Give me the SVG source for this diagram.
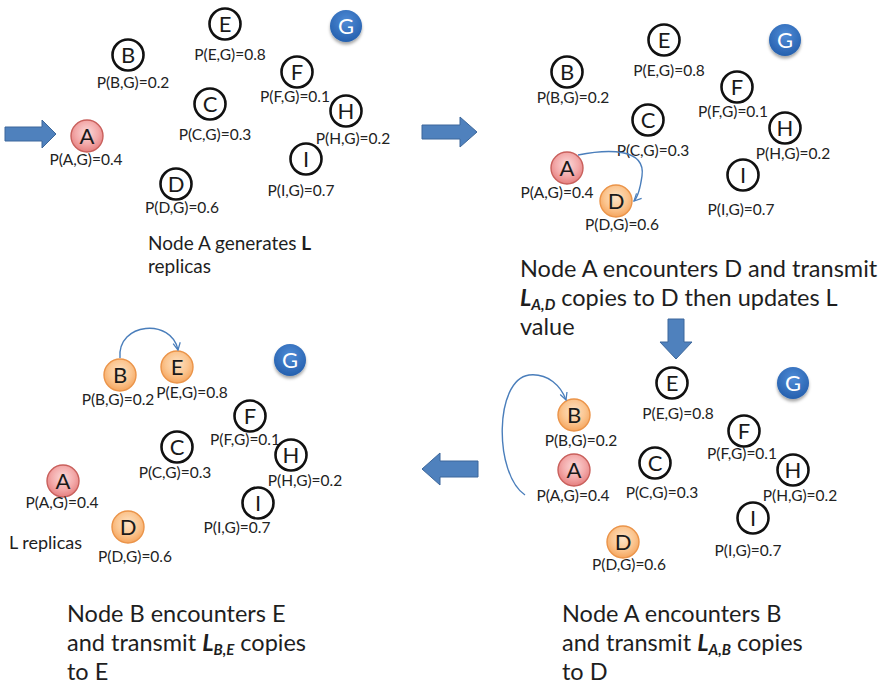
<svg xmlns="http://www.w3.org/2000/svg" width="884" height="686" viewBox="0 0 884 686">
<defs>
  <radialGradient id="gRed" cx="50%" cy="40%" r="60%">
    <stop offset="0" stop-color="#fbdada"/>
    <stop offset="0.6" stop-color="#f3a9a9"/>
    <stop offset="1" stop-color="#e57f7f"/>
  </radialGradient>
  <radialGradient id="gOrange" cx="50%" cy="40%" r="60%">
    <stop offset="0" stop-color="#fde3c6"/>
    <stop offset="0.6" stop-color="#fbc58f"/>
    <stop offset="1" stop-color="#f5a55e"/>
  </radialGradient>
  <radialGradient id="gBlue" cx="50%" cy="35%" r="65%">
    <stop offset="0" stop-color="#4f8bd6"/>
    <stop offset="1" stop-color="#2560ae"/>
  </radialGradient>
  <filter id="shadow" x="-50%" y="-50%" width="200%" height="200%">
    <feDropShadow dx="0" dy="2.5" stdDeviation="1.8" flood-color="#000" flood-opacity="0.35"/>
  </filter>
  <marker id="openArrow" viewBox="0 0 10 10" refX="9" refY="5" markerWidth="9" markerHeight="9" orient="auto" markerUnits="userSpaceOnUse">
    <path d="M1,1 L9,5 L1,9" fill="none" stroke="#4a7ebb" stroke-width="1.4"/>
  </marker>
</defs>
<style>
  .plain{fill:#fff;stroke:#111;stroke-width:2.6}
  .red{fill:url(#gRed);stroke:#c9605c;stroke-width:1.4}
  .orange{fill:url(#gOrange);stroke:#eb9449;stroke-width:1.4}
  .goal{fill:url(#gBlue);filter:url(#shadow)}
  .ltr{font-family:Lato,"Liberation Sans",sans-serif;font-size:22px;fill:#1a1a1a;text-anchor:middle}
  .gl{font-family:Lato,"Liberation Sans",sans-serif;font-size:22px;fill:#fff;text-anchor:middle}
  .lbl{font-family:Lato,"Liberation Sans",sans-serif;font-size:15.5px;fill:#222;text-anchor:middle}
  .cap{font-family:Lato,"Liberation Sans",sans-serif;font-size:23.5px;fill:#1e1e1e}
  .cap1{font-family:Lato,"Liberation Sans",sans-serif;font-size:19px;fill:#1e1e1e}
  .sm{font-family:Lato,"Liberation Sans",sans-serif;font-size:18px;fill:#1e1e1e}
  .bi{font-weight:bold;font-style:italic}
  .curve{fill:none;stroke:#4a7ebb;stroke-width:1.4;marker-end:url(#openArrow)}
  .block{fill:#4f81bd;stroke:#3c679b;stroke-width:1}
</style>

<!-- ===== Panel 1 ===== -->
<g id="p1-A"><circle class="red" cx="87" cy="136" r="16"/><text class="ltr" x="87" y="144">A</text><text class="lbl" x="86" y="165">P(A,G)=0.4</text></g>
<g id="p1-B"><circle class="plain" cx="128" cy="55" r="15.5"/><text class="ltr" x="128" y="63">B</text><text class="lbl" x="133" y="88">P(B,G)=0.2</text></g>
<g id="p1-E"><circle class="plain" cx="225" cy="24" r="15.5"/><text class="ltr" x="225" y="32">E</text><text class="lbl" x="230" y="60">P(E,G)=0.8</text></g>
<g id="p1-G"><circle class="goal" cx="346" cy="26" r="16"/><text class="gl" x="346" y="34">G</text></g>
<g id="p1-F"><circle class="plain" cx="297" cy="72" r="15.5"/><text class="ltr" x="297" y="80">F</text><text class="lbl" x="295" y="102">P(F,G)=0.1</text></g>
<g id="p1-C"><circle class="plain" cx="210" cy="104" r="15.5"/><text class="ltr" x="210" y="112">C</text><text class="lbl" x="215" y="140">P(C,G)=0.3</text></g>
<g id="p1-H"><circle class="plain" cx="346" cy="111" r="15.5"/><text class="ltr" x="346" y="119">H</text><text class="lbl" x="353" y="144">P(H,G)=0.2</text></g>
<g id="p1-I"><circle class="plain" cx="306" cy="159" r="15.5"/><text class="ltr" x="306" y="167">I</text><text class="lbl" x="301" y="196">P(I,G)=0.7</text></g>
<g id="p1-D"><circle class="plain" cx="176" cy="184" r="15.5"/><text class="ltr" x="176" y="192">D</text><text class="lbl" x="182" y="213">P(D,G)=0.6</text></g>
<g id="p1-caption"><text class="cap1" x="148" y="250">Node A generates <tspan font-weight="bold">L</tspan></text><text class="cap1" x="148" y="273">replicas</text></g>

<!-- ===== Panel 2 ===== -->
<g id="p2-B"><circle class="plain" cx="567" cy="72" r="15.5"/><text class="ltr" x="567" y="80">B</text><text class="lbl" x="573" y="103">P(B,G)=0.2</text></g>
<g id="p2-E"><circle class="plain" cx="664" cy="40" r="15.5"/><text class="ltr" x="664" y="48">E</text><text class="lbl" x="669" y="76">P(E,G)=0.8</text></g>
<g id="p2-G"><circle class="goal" cx="785" cy="40" r="16"/><text class="gl" x="785" y="48">G</text></g>
<g id="p2-F"><circle class="plain" cx="737" cy="87" r="15.5"/><text class="ltr" x="737" y="95">F</text><text class="lbl" x="733" y="117">P(F,G)=0.1</text></g>
<g id="p2-C"><circle class="plain" cx="648" cy="120" r="15.5"/><text class="ltr" x="648" y="128">C</text><text class="lbl" x="653" y="156">P(C,G)=0.3</text></g>
<g id="p2-H"><circle class="plain" cx="785" cy="128" r="15.5"/><text class="ltr" x="785" y="136">H</text><text class="lbl" x="793" y="159">P(H,G)=0.2</text></g>
<g id="p2-A"><circle class="red" cx="567" cy="168" r="16"/><text class="ltr" x="567" y="176">A</text><text class="lbl" x="557" y="198">P(A,G)=0.4</text></g>
<g id="p2-D"><circle class="orange" cx="616" cy="201" r="16"/><text class="ltr" x="616" y="209">D</text><text class="lbl" x="622" y="230">P(D,G)=0.6</text></g>
<g id="p2-I"><circle class="plain" cx="743" cy="175" r="15.5"/><text class="ltr" x="743" y="183">I</text><text class="lbl" x="741" y="215">P(I,G)=0.7</text></g>
<g id="p2-caption">
  <text class="cap" x="520" y="277">Node A encounters D and transmit</text>
  <text class="cap" x="520" y="306"><tspan class="bi">L</tspan><tspan class="bi" font-size="15" dy="4">A,D</tspan><tspan dy="-4"> copies to D then updates L</tspan></text>
  <text class="cap" x="520" y="335">value</text>
</g>

<!-- ===== Panel 3 (bottom right) ===== -->
<g id="p3-E"><circle class="plain" cx="672" cy="383" r="15.5"/><text class="ltr" x="672" y="391">E</text><text class="lbl" x="678" y="419">P(E,G)=0.8</text></g>
<g id="p3-G"><circle class="goal" cx="793" cy="383" r="16"/><text class="gl" x="793" y="391">G</text></g>
<g id="p3-B"><circle class="orange" cx="574" cy="415" r="16"/><text class="ltr" x="574" y="423">B</text><text class="lbl" x="581" y="446">P(B,G)=0.2</text></g>
<g id="p3-F"><circle class="plain" cx="744" cy="431" r="15.5"/><text class="ltr" x="744" y="439">F</text><text class="lbl" x="742" y="459">P(F,G)=0.1</text></g>
<g id="p3-A"><circle class="red" cx="574" cy="470" r="16"/><text class="ltr" x="574" y="478">A</text><text class="lbl" x="573" y="501">P(A,G)=0.4</text></g>
<g id="p3-C"><circle class="plain" cx="655" cy="463" r="15.5"/><text class="ltr" x="655" y="471">C</text><text class="lbl" x="662" y="498">P(C,G)=0.3</text></g>
<g id="p3-H"><circle class="plain" cx="793" cy="470" r="15.5"/><text class="ltr" x="793" y="478">H</text><text class="lbl" x="800" y="501">P(H,G)=0.2</text></g>
<g id="p3-I"><circle class="plain" cx="753" cy="518" r="15.5"/><text class="ltr" x="753" y="526">I</text><text class="lbl" x="748" y="556">P(I,G)=0.7</text></g>
<g id="p3-D"><circle class="orange" cx="623" cy="542" r="16"/><text class="ltr" x="623" y="550">D</text><text class="lbl" x="629" y="570">P(D,G)=0.6</text></g>
<g id="p3-caption">
  <text class="cap" x="562" y="622">Node A encounters B</text>
  <text class="cap" x="562" y="651">and transmit <tspan class="bi">L</tspan><tspan class="bi" font-size="15" dy="4">A,B</tspan><tspan dy="-4"> copies</tspan></text>
  <text class="cap" x="562" y="680">to D</text>
</g>

<!-- ===== Panel 4 (bottom left) ===== -->
<g id="p4-B"><circle class="orange" cx="120" cy="375" r="16"/><text class="ltr" x="120" y="383">B</text><text class="lbl" x="118" y="405">P(B,G)=0.2</text></g>
<g id="p4-E"><circle class="orange" cx="177" cy="367" r="16"/><text class="ltr" x="177" y="375">E</text><text class="lbl" x="192" y="398">P(E,G)=0.8</text></g>
<g id="p4-G"><circle class="goal" cx="290" cy="360" r="16"/><text class="gl" x="290" y="368">G</text></g>
<g id="p4-F"><circle class="plain" cx="250" cy="416" r="15.5"/><text class="ltr" x="250" y="424">F</text><text class="lbl" x="245" y="445">P(F,G)=0.1</text></g>
<g id="p4-C"><circle class="plain" cx="177" cy="447" r="15.5"/><text class="ltr" x="177" y="455">C</text><text class="lbl" x="175" y="478">P(C,G)=0.3</text></g>
<g id="p4-H"><circle class="plain" cx="291" cy="455" r="15.5"/><text class="ltr" x="291" y="463">H</text><text class="lbl" x="305" y="486">P(H,G)=0.2</text></g>
<g id="p4-A"><circle class="red" cx="63" cy="481" r="16"/><text class="ltr" x="63" y="489">A</text><text class="lbl" x="62" y="508">P(A,G)=0.4</text></g>
<g id="p4-I"><circle class="plain" cx="258" cy="503" r="15.5"/><text class="ltr" x="258" y="511">I</text><text class="lbl" x="237" y="533">P(I,G)=0.7</text></g>
<g id="p4-D"><circle class="orange" cx="128" cy="527" r="16"/><text class="ltr" x="128" y="535">D</text><text class="lbl" x="135" y="562">P(D,G)=0.6</text></g>
<g id="p4-note"><text class="sm" x="9" y="549">L replicas</text></g>
<g id="p4-caption">
  <text class="cap" x="67" y="622">Node B encounters E</text>
  <text class="cap" x="67" y="651">and transmit <tspan class="bi">L</tspan><tspan class="bi" font-size="15" dy="4">B,E</tspan><tspan dy="-4"> copies</tspan></text>
  <text class="cap" x="67" y="680">to E</text>
</g>

<!-- ===== Connectors ===== -->
<g id="connectors">
  <path class="curve" d="M578 155 C608 149 646 148 642 176 C640 190 638 197 634 201"/>
  <path class="curve" d="M525 495 C494 474 494 380 529 375 C548 373 561 386 566 400"/>
  <path class="curve" d="M120 358 C117 322 172 318 178 350"/>
</g>

<!-- ===== Step arrows ===== -->
<g id="step-arrows">
  <path class="block" d="M5 127 H42 V120 L56 134 L42 148 V141 H5 Z"/>
  <path class="block" d="M422 125 H460 V117 L477 132 L460 147 V139 H422 Z"/>
  <path class="block" d="M668 319 H684 V342 H692 L676 359 L660 342 H668 Z"/>
  <path class="block" d="M478 461 H440 V453 L422 469 L440 485 V477 H478 Z"/>
</g>
</svg>
